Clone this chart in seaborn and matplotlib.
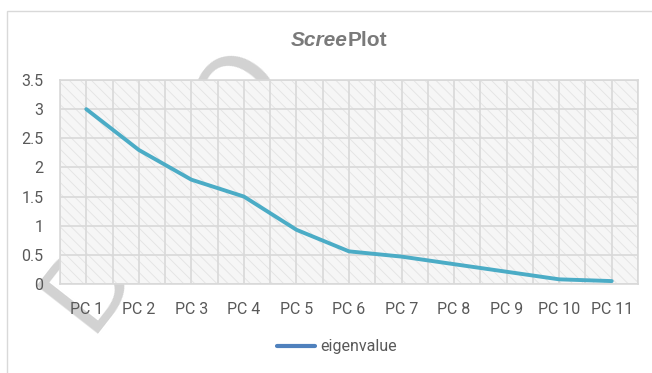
import matplotlib
matplotlib.use("Agg")
import matplotlib.pyplot as plt
from matplotlib.lines import Line2D
from matplotlib.patches import Rectangle
import numpy as np
import pandas as pd
import seaborn as sns

# Scree plot data
components = ["PC 1", "PC 2", "PC 3", "PC 4", "PC 5", "PC 6",
              "PC 7", "PC 8", "PC 9", "PC 10", "PC 11"]
eigenvalues = [3.0, 2.3, 1.79, 1.5, 0.93, 0.56, 0.47, 0.34, 0.21, 0.08, 0.05]
y_ticks = [0, 0.5, 1, 1.5, 2, 2.5, 3, 3.5]
series_name = "eigenvalue"
title_left, title_right = "Scree", "Plot"
watermark = "DEMO"

sns.set_theme(style="white")
plt.rcParams["font.family"] = ["Roboto", "DejaVu Sans"]
plt.rcParams["hatch.linewidth"] = 0.6

W, H, DPI = 652, 373, 100
fig = plt.figure(figsize=(W / DPI, H / DPI), dpi=DPI)
fig.patch.set_facecolor("white")

# plot area in pixel coordinates
left, right, top, bottom = 60, 638, 80, 284
ax = fig.add_axes([left / W, 1 - bottom / H, (right - left) / W, (bottom - top) / H])
ax.set_facecolor("white")
ax.add_patch(Rectangle((0, 0), 1, 1, transform=ax.transAxes, facecolor="#f6f6f6",
                       edgecolor="#e3e3e3", hatch="\\\\\\", lw=0, zorder=0))

df = pd.DataFrame({"pos": np.arange(len(components)), "value": eigenvalues})
sns.lineplot(data=df, x="pos", y="value", ax=ax, color="#4BACC6", lw=2.8,
             zorder=5, legend=False)

ax.set_xlim(-0.5, len(components) - 0.5)
ax.set_ylim(0, 3.5)
ax.set_xticks(np.arange(len(components)))
ax.set_xticklabels(components)
ax.set_xticks(np.arange(-0.5, len(components), 1.0), minor=True)
ax.set_yticks(y_ticks)
ax.set_yticklabels([f"{v:g}" for v in y_ticks])
ax.set_xlabel("")
ax.set_ylabel("")
ax.grid(True, which="both", color="#d9d9d9", lw=1.2, zorder=1)
ax.set_axisbelow(False)
for ln in ax.get_xgridlines() + ax.get_ygridlines():
    ln.set_zorder(1)
ax.tick_params(axis="both", which="both", length=0, labelsize=11.5,
               labelcolor="#595959")
ax.tick_params(axis="x", pad=13)
ax.tick_params(axis="y", pad=12)
for s in ax.spines.values():
    s.set_color("#d9d9d9")
    s.set_linewidth(1.2)

# title: italic "Scree" + upright "Plot"
split_x = 348 / W
ty = 1 - 40 / H
fig.text(split_x, ty, title_left, ha="right", va="center", fontsize=15,
         fontweight="bold", fontstyle="italic", color="#7a7a7a",
         family=["Liberation Sans", "DejaVu Sans"])
fig.text(split_x, ty, title_right, ha="left", va="center", fontsize=15,
         fontweight="bold", color="#7a7a7a",
         family=["Liberation Sans", "DejaVu Sans"])

# legend below the plot
handle = Line2D([0], [0], color="#4F81BD", lw=3)
fig.legend([handle], [series_name], loc="center",
           bbox_to_anchor=(337 / W, 1 - 347 / H), frameon=False,
           fontsize=11.5, labelcolor="#595959", handlelength=2.4,
           handletextpad=0.3)

# chart border
fig.add_artist(Rectangle((7 / W, -0.1), 1.0, 1 - 11 / H + 0.1,
                         transform=fig.transFigure, fill=False,
                         edgecolor="#d9d9d9", lw=1.0, zorder=-4))

# diagonal watermark behind the chart
fig.text(165 / W, 1 - 187 / H, watermark, rotation=52, fontsize=77,
         color="#d2d2d2", ha="center", va="center", zorder=-5,
         family=["DejaVu Sans"])

fig.savefig("out.png", dpi=DPI, facecolor="white")
